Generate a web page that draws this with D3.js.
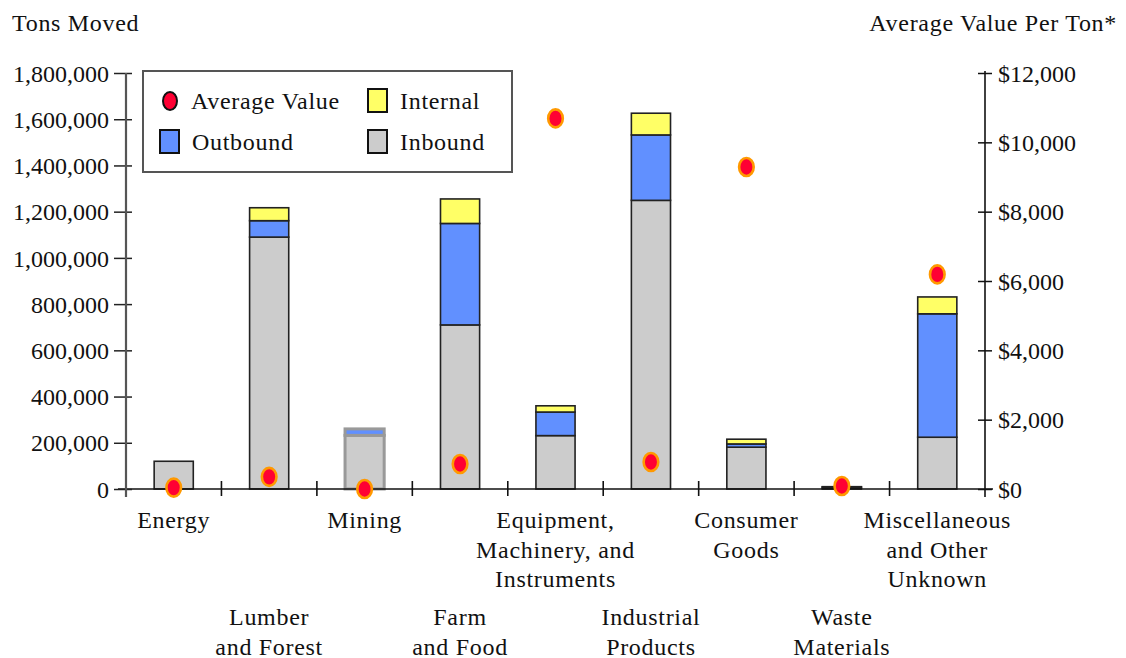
<!DOCTYPE html>
<html>
<head>
<meta charset="utf-8">
<script src="https://cdn.jsdelivr.net/npm/d3@7"></script>
<style>
  html, body { margin: 0; padding: 0; background: #ffffff; }
  svg { display: block; font-family: "Palatino Linotype", "Book Antiqua", Palatino, "Liberation Serif", serif; }
  .lbl { font-size: 24px; fill: #111; letter-spacing: 0.7px; }
  .num { font-size: 24px; fill: #111; }
</style>
</head>
<body>
<svg id="chart" width="1126" height="658"></svg>
<script>
// Commodity groups (label lines) and tonnage by direction
const categories = ["Energy", "Lumber and Forest", "Mining", "Farm and Food",
  "Equipment, Machinery, and Instruments", "Industrial Products", "Consumer Goods",
  "Waste Materials", "Miscellaneous and Other Unknown"];
const categoryLines = [["Energy"], ["Lumber", "and Forest"], ["Mining"], ["Farm", "and Food"],
  ["Equipment,", "Machinery, and", "Instruments"], ["Industrial", "Products"], ["Consumer", "Goods"],
  ["Waste", "Materials"], ["Miscellaneous", "and Other", "Unknown"]];
const inbound  = [120000, 1090000, 232000, 710000, 231000, 1249000, 181000, 4000, 224000];
const outbound = [0, 71000, 28000, 439000, 102000, 283000, 14000, 5000, 534000];
const internal = [0, 56000, 0, 106000, 27000, 94000, 20500, 1000, 73000];
const avgValue = [40, 350, 0, 720, 10690, 780, 9290, 87, 6190];

const leftTicks = [0, 200000, 400000, 600000, 800000, 1000000, 1200000, 1400000, 1600000, 1800000];
const rightTicks = [0, 2000, 4000, 6000, 8000, 10000, 12000];
const seriesNames = ["inbound", "outbound", "internal"];
const colors = { inbound: "#cccccc", outbound: "#6190ff", internal: "#ffff66" };

const rows = categories.map((name, i) => ({
  name, lines: categoryLines[i],
  inbound: inbound[i], outbound: outbound[i], internal: internal[i], avg: avgValue[i]
}));

const svg = d3.select("#chart");
const plotLeft = 126, plotRight = 985, plotTop = 73, base = 489;

const x = d3.scaleBand().domain(categories).range([plotLeft, plotRight]).padding(0);
const yL = d3.scaleLinear().domain([0, 1800000]).range([base, plotTop]);
const yR = d3.scaleLinear().domain([0, 12000]).range([base, plotTop]);
const barW = x.bandwidth() * 0.41;

// Stacked bars
const stacked = d3.stack().keys(seriesNames)(rows);
const barG = svg.append("g");
stacked.forEach(layer => {
  barG.selectAll(null).data(layer).join("rect")
    .attr("x", d => x(d.data.name) + (x.bandwidth() - barW) / 2)
    .attr("y", d => yL(d[1]))
    .attr("width", barW)
    .attr("height", d => Math.max(0, yL(d[0]) - yL(d[1])))
    .attr("fill", colors[layer.key])
    .attr("stroke", d => d.data.name === "Mining" ? "#999" : "#222")
    .attr("stroke-width", d => d.data.name === "Mining" ? 3 : 1.6);
});

// Baseline and category separators
svg.append("line").attr("x1", plotLeft - 8).attr("x2", plotRight + 8)
  .attr("y1", base).attr("y2", base).attr("stroke", "#111").attr("stroke-width", 1.6);
svg.selectAll(".sep").data(categories.slice(1)).join("line")
  .attr("x1", d => x(d)).attr("x2", d => x(d))
  .attr("y1", base - 8).attr("y2", base + 7)
  .attr("stroke", "#111").attr("stroke-width", 1.6);

// Left axis
const axL = svg.append("g").attr("transform", `translate(${plotLeft},0)`)
  .call(d3.axisLeft(yL).tickValues(leftTicks).tickFormat(d3.format(",")).tickSize(12).tickPadding(5))
  .attr("font-family", null).attr("font-size", null);
axL.select(".domain").remove();
axL.selectAll(".tick line").attr("x1", 6).attr("stroke", "#222").attr("stroke-width", 1.5);
axL.selectAll(".tick text").attr("class", "num").attr("dy", "0.34em");
svg.append("line").attr("x1", plotLeft).attr("x2", plotLeft).attr("y1", plotTop).attr("y2", base + 8)
  .attr("stroke", "#555").attr("stroke-width", 2.2);

// Right axis
const axR = svg.append("g").attr("transform", `translate(${plotRight},0)`)
  .call(d3.axisRight(yR).tickValues(rightTicks).tickFormat(d => "$" + d3.format(",")(d)).tickSize(7).tickPadding(6))
  .attr("font-family", null).attr("font-size", null);
axR.select(".domain").remove();
axR.selectAll(".tick line").attr("x1", -7).attr("stroke", "#111").attr("stroke-width", 1.5);
axR.selectAll(".tick text").attr("class", "num").attr("dy", "0.34em");
svg.append("line").attr("x1", plotRight).attr("x2", plotRight).attr("y1", plotTop - 2).attr("y2", base + 8)
  .attr("stroke", "#111").attr("stroke-width", 1.6);

// Average value markers
svg.selectAll(".dot").data(rows).join("ellipse")
  .attr("cx", d => x(d.name) + x.bandwidth() / 2)
  .attr("cy", d => yR(d.avg))
  .attr("rx", 7.3).attr("ry", 9)
  .attr("fill", "#ff0033").attr("stroke", "#ff9900").attr("stroke-width", 2.6);

// Category labels, alternating rows
const labG = svg.append("g");
rows.forEach((r, i) => {
  const y0 = i % 2 === 0 ? 528 : 625;
  const cx = x(r.name) + x.bandwidth() / 2;
  const t = labG.append("text").attr("class", "lbl").attr("text-anchor", "middle");
  r.lines.forEach((ln, j) => t.append("tspan").attr("x", cx).attr("y", y0 + j * 29.5).text(ln));
});

// Axis titles
svg.append("text").attr("class", "lbl").attr("x", 12).attr("y", 31).text("Tons Moved");
svg.append("text").attr("class", "lbl").attr("x", 1117).attr("y", 31).attr("text-anchor", "end")
  .text("Average Value Per Ton*");

// Legend
const lg = svg.append("g");
lg.append("rect").attr("x", 143).attr("y", 71).attr("width", 369).attr("height", 101)
  .attr("fill", "#fff").attr("stroke", "#555").attr("stroke-width", 2);
lg.append("ellipse").attr("cx", 170).attr("cy", 101).attr("rx", 7).attr("ry", 9)
  .attr("fill", "#ff0033").attr("stroke", "#111").attr("stroke-width", 2);
const legendItems = [
  { key: "internal", label: "Internal", x: 368, y: 89 },
  { key: "outbound", label: "Outbound", x: 160, y: 130 },
  { key: "inbound", label: "Inbound", x: 368, y: 130 }
];
legendItems.forEach(it => {
  lg.append("rect").attr("x", it.x).attr("y", it.y).attr("width", 19).attr("height", 23)
    .attr("fill", colors[it.key]).attr("stroke", "#111").attr("stroke-width", 2);
  lg.append("text").attr("class", "lbl").attr("x", it.x + 32).attr("y", it.y + 20).text(it.label);
});
lg.append("text").attr("class", "lbl").attr("x", 191).attr("y", 109).text("Average Value");
</script>
</body>
</html>
